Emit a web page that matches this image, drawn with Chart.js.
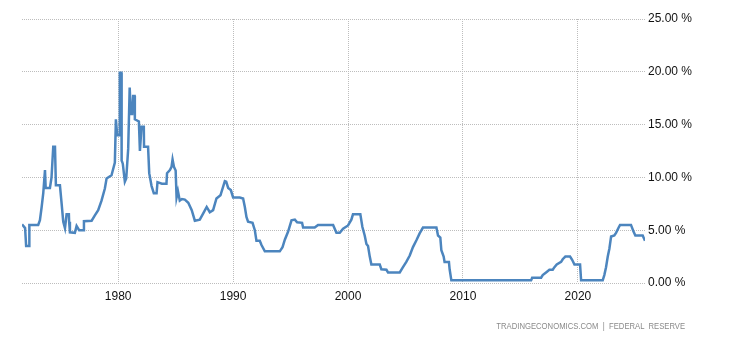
<!DOCTYPE html>
<html>
<head>
<meta charset="utf-8">
<title>United States Fed Funds Rate</title>
<script src="https://cdn.jsdelivr.net/npm/chart.js@4/dist/chart.umd.min.js"></script>
<style>
    html, body { margin: 0; padding: 0; background: #fff; }
    #wrap { position: relative; width: 730px; height: 340px; }
    #source {
        position: absolute;
        right: 45px;
        top: 320px;
        font-family: "Liberation Sans", Arial, sans-serif;
        font-size: 9.5px;
        color: #8a8a8a;
        white-space: pre;
        transform: scaleX(0.81);
        transform-origin: right center;
    }
</style>
</head>
<body>
<div id="wrap">
    <canvas id="rateChart" width="730" height="340"></canvas>
    <div id="source">TRADINGECONOMICS.COM  |  FEDERAL  RESERVE</div>
</div>
<script>
// 利率数据（年份为小数年）
var years = [
    1971.63, 1971.9, 1971.99, 1972.24, 1972.27, 1973.04, 1973.19, 1973.34, 1973.48, 1973.63,
    1973.69, 1974.06, 1974.2, 1974.35, 1974.5, 1974.58, 1974.93, 1975.08, 1975.22, 1975.37,
    1975.51, 1975.71, 1975.73, 1975.8, 1976.23, 1976.38, 1976.6, 1976.96, 1977.02, 1977.69,
    1977.97, 1978.26, 1978.55, 1978.84, 1978.99, 1979.42, 1979.71, 1979.8, 1979.91, 1980.09,
    1980.14, 1980.28, 1980.3, 1980.4, 1980.58, 1980.7, 1980.87, 1981.0, 1981.1, 1981.22,
    1981.3, 1981.43, 1981.45, 1981.8, 1981.89, 1982.03, 1982.23, 1982.25, 1982.6, 1982.7,
    1982.9, 1983.1, 1983.34, 1983.42, 1983.8, 1984.2, 1984.25, 1984.5, 1984.64, 1984.73,
    1984.85, 1985.0, 1985.08, 1985.2, 1985.36, 1985.55, 1985.8, 1986.1, 1986.4, 1986.67,
    1987.1, 1987.4, 1987.7, 1987.97, 1988.26, 1988.55, 1988.9, 1989.28, 1989.4, 1989.57,
    1989.8, 1990.0, 1990.58, 1990.87, 1991.02, 1991.16, 1991.3, 1991.69, 1991.89, 1992.03,
    1992.32, 1992.47, 1992.76, 1994.06, 1994.3, 1994.5, 1994.78, 1995.08, 1995.37, 1995.57,
    1996.0, 1996.09, 1997.1, 1997.39, 1998.7, 1998.99, 1999.28, 1999.57, 2000.0, 2000.29,
    2000.43, 2001.07, 2001.25, 2001.45, 2001.6, 2001.74, 2001.89, 2002.03, 2002.76, 2002.9,
    2003.34, 2003.48, 2004.5, 2004.78, 2005.07, 2005.37, 2005.65, 2005.95, 2006.23, 2006.52,
    2007.69, 2007.83, 2008.03, 2008.12, 2008.32, 2008.4, 2008.78, 2008.84, 2008.99, 2015.93,
    2016.02, 2016.8, 2016.94, 2017.23, 2017.52, 2017.81, 2017.96, 2018.16, 2018.54, 2018.68,
    2018.91, 2019.32, 2019.5, 2019.7, 2020.19, 2020.28, 2022.16, 2022.3, 2022.45, 2022.6,
    2022.74, 2022.89, 2023.17, 2023.32, 2023.55, 2023.67, 2024.62, 2024.83, 2025.0, 2025.64,
    2025.84
];
var rates = [
    5.55, 5.2, 3.5, 3.5, 5.5, 5.5, 5.94, 7.2, 8.5, 10.7,
    9.0, 9.0, 10.0, 12.9, 12.9, 9.25, 9.25, 7.5, 5.8, 5.2,
    6.5, 6.5, 5.8, 4.8, 4.75, 5.4, 5.0, 5.0, 5.85, 5.9,
    6.4, 6.9, 7.8, 8.95, 9.9, 10.2, 11.4, 15.5, 14.0, 14.0,
    19.9, 19.9, 11.6, 11.3, 9.6, 9.9, 12.7, 18.5, 16.0, 16.0,
    17.7, 17.7, 15.5, 15.3, 12.5, 14.8, 14.8, 12.9, 12.9, 10.4,
    9.2, 8.5, 8.5, 9.55, 9.4, 9.4, 10.4, 10.7, 11.0, 11.7,
    11.0, 10.66, 8.1, 8.7, 7.8, 7.95, 7.9, 7.6, 6.9, 5.9,
    6.0, 6.6, 7.2, 6.7, 6.9, 8.0, 8.3, 9.65, 9.6, 9.0,
    8.8, 8.1, 8.1, 8.0, 7.2, 6.25, 5.8, 5.7, 5.0, 4.0,
    4.0, 3.6, 3.0, 3.0, 3.4, 4.1, 4.85, 5.94, 6.0, 5.75,
    5.7, 5.25, 5.25, 5.5, 5.5, 4.75, 4.75, 5.15, 5.45, 6.0,
    6.5, 6.5, 5.3, 4.5, 3.7, 3.5, 2.5, 1.75, 1.75, 1.3,
    1.25, 1.0, 1.0, 1.5, 2.0, 2.6, 3.4, 4.05, 4.7, 5.25,
    5.25, 4.5, 4.3, 3.1, 2.5, 2.0, 2.0, 1.3, 0.25, 0.25,
    0.5, 0.5, 0.75, 1.0, 1.25, 1.25, 1.5, 1.75, 2.0, 2.25,
    2.5, 2.5, 2.2, 1.75, 1.75, 0.25, 0.25, 0.75, 1.5, 2.5,
    3.25, 4.4, 4.5, 4.75, 5.25, 5.5, 5.5, 4.9, 4.5, 4.5,
    4.0
];

// 坐标轴刻度
var yearTicks = [1980, 1990, 2000, 2010, 2020];
var rateTicks = [0, 5, 10, 15, 20, 25];

var gridStyle = {
    color: '#bdbdbd',
    lineWidth: 1,
    drawTicks: false
};
// v4 里网格线的虚线在 border.dash
var dotted = { display: false, dash: [1, 1] };

document.addEventListener('DOMContentLoaded', function() {
    var points = years.map(function(y, i) {
        return { x: y, y: rates[i] };
    });

    var ctx = document.getElementById('rateChart').getContext('2d');
    var rateChart = new Chart(ctx, {
        type: 'line',
        data: {
            datasets: [{
                label: 'Interest Rate',
                data: points,
                borderColor: 'rgb(76, 133, 190)',
                borderWidth: 2.5,
                pointRadius: 0,
                tension: 0,
                fill: false
            }]
        },
        options: {
            responsive: false,
            animation: false,
            layout: {
                padding: { left: 22, top: 19, right: 0, bottom: 0 }
            },
            plugins: {
                legend: { display: false },
                tooltip: { enabled: false }
            },
            scales: {
                x: {
                    type: 'linear',
                    min: years[0],
                    max: years[years.length - 1],
                    border: dotted,
                    grid: gridStyle,
                    afterBuildTicks: function(axis) {
                        axis.ticks = yearTicks.map(function(v) { return { value: v }; });
                    },
                    afterFit: function(axis) {
                        axis.height = 57;
                    },
                    ticks: {
                        padding: 6,
                        color: '#111',
                        font: { family: 'Liberation Sans', size: 12 },
                        maxRotation: 0,
                        callback: function(v) { return String(v); }
                    }
                },
                y: {
                    position: 'right',
                    min: 0,
                    max: 25,
                    border: dotted,
                    grid: gridStyle,
                    afterBuildTicks: function(axis) {
                        axis.ticks = rateTicks.map(function(v) { return { value: v }; });
                    },
                    afterFit: function(axis) {
                        axis.width = 85;
                    },
                    ticks: {
                        padding: 3,
                        color: '#111',
                        font: { family: 'Liberation Sans', size: 12 },
                        callback: function(v) { return v.toFixed(2) + ' %'; }
                    }
                }
            }
        }
    });
});
</script>
</body>
</html>
